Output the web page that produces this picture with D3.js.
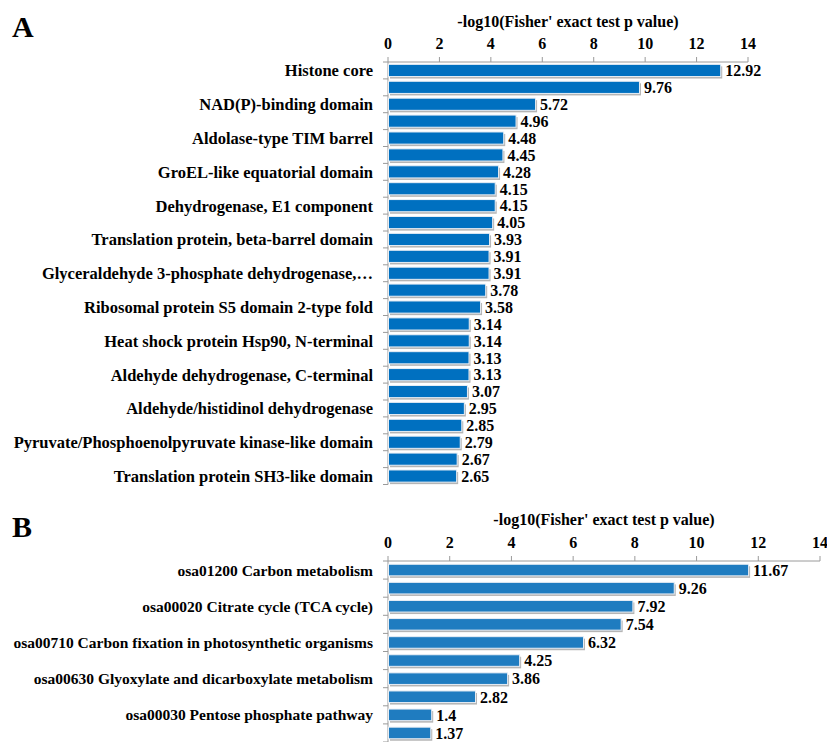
<!DOCTYPE html>
<html><head><meta charset="utf-8">
<script src="https://cdn.jsdelivr.net/npm/d3@7"></script>
<style>body{margin:0;background:#fff}text{font-family:"Liberation Serif","Times New Roman",serif;font-weight:bold;fill:#000}</style>
</head><body>
<script>
// Panel A data (labels shown on every other row, as in the source)
const catsA = ["Histone core","","NAD(P)-binding domain","","Aldolase-type TIM barrel","","GroEL-like equatorial domain","","Dehydrogenase, E1 component","","Translation protein, beta-barrel domain","","Glyceraldehyde 3-phosphate dehydrogenase,…","","Ribosomal protein S5 domain 2-type fold","","Heat shock protein Hsp90, N-terminal","","Aldehyde dehydrogenase, C-terminal","","Aldehyde/histidinol dehydrogenase","","Pyruvate/Phosphoenolpyruvate kinase-like domain","","Translation protein SH3-like domain"];
const valsA = [12.92,9.76,5.72,4.96,4.48,4.45,4.28,4.15,4.15,4.05,3.93,3.91,3.91,3.78,3.58,3.14,3.14,3.13,3.13,3.07,2.95,2.85,2.79,2.67,2.65];
// Panel B data
const catsB = ["osa01200 Carbon metabolism","","osa00020 Citrate cycle (TCA cycle)","","osa00710 Carbon fixation in photosynthetic organisms","","osa00630 Glyoxylate and dicarboxylate metabolism","","osa00030 Pentose phosphate pathway",""];
const valsB = [11.67,9.26,7.92,7.54,6.32,4.25,3.86,2.82,1.4,1.37];
const ticks = [0,2,4,6,8,10,12,14];
const axisTitle = "-log10(Fisher' exact test p value)";

const svg = d3.select("body").append("svg").attr("width",827).attr("height",742);

function panel(cfg){
  const {cats, vals, letter, x0, x1, y0, y1, color, pad, letterY, titleY, tickY, labFont} = cfg;
  const g = svg.append("g");
  const x = d3.scaleLinear().domain([0,14]).range([x0,x1]);
  const idx = d3.range(vals.length);
  const y = d3.scaleBand().domain(idx).range([y0,y1]).paddingInner(pad).paddingOuter(pad/2);
  g.append("text").attr("x",12).attr("y",letterY).style("font-size","30px").text(letter);
  g.append("text").attr("x",(x0+x1)/2).attr("y",titleY).attr("text-anchor","middle").style("font-size","16px").text(axisTitle);
  // top axis
  g.append("line").attr("x1",x0).attr("x2",x1).attr("y1",y0).attr("y2",y0).attr("stroke","#9a9a9a");
  g.selectAll(".tk").data(ticks).enter().append("line").attr("x1",d=>x(d)).attr("x2",d=>x(d)).attr("y1",y0).attr("y2",y0-5).attr("stroke","#9a9a9a");
  g.selectAll(".tl").data(ticks).enter().append("text").attr("x",d=>x(d)).attr("y",tickY).attr("text-anchor","middle").style("font-size","16px").text(d=>d);
  // left axis
  g.append("line").attr("x1",x0).attr("x2",x0).attr("y1",y0).attr("y2",y1).attr("stroke","#9a9a9a");
  g.selectAll(".lt").data(d3.range(vals.length+1)).enter().append("line")
    .attr("x1",x0-5).attr("x2",x0).attr("y1",i=>y0+i*(y1-y0)/vals.length).attr("y2",i=>y0+i*(y1-y0)/vals.length).attr("stroke","#9a9a9a");
  // shadows
  g.selectAll(".sh").data(idx).enter().append("rect")
    .attr("x",x0+2).attr("y",i=>y(i)+2).attr("width",i=>x(vals[i])-x0).attr("height",y.bandwidth())
    .attr("fill","#b5b5b5");
  g.selectAll(".bar").data(idx).enter().append("rect")
    .attr("x",x0+0.5).attr("y",i=>y(i)).attr("width",i=>x(vals[i])-x0).attr("height",y.bandwidth())
    .attr("fill",color).attr("stroke","#e8eef5").attr("stroke-width",1);
  g.selectAll(".vl").data(idx).enter().append("text")
    .attr("x",i=>x(vals[i])+5).attr("y",i=>y(i)+y.bandwidth()/2).attr("dy","0.36em")
    .style("font-size","16px").text(i=>vals[i]);
  g.selectAll(".cl").data(idx.filter(i=>cats[i])).enter().append("text")
    .attr("x",x0-15).attr("y",i=>y(i)+y.bandwidth()/2).attr("dy","0.36em").attr("text-anchor","end")
    .style("font-size",labFont).text(i=>cats[i]);
}
panel({cats:catsA, vals:valsA, letter:"A", x0:388, x1:748, y0:62, y1:484.5, color:"#0070C0", pad:0.28, letterY:37, titleY:27, tickY:49, labFont:"16.5px"});
panel({cats:catsB, vals:valsB, letter:"B", x0:388, x1:820, y0:561, y1:742, color:"#1F7CC0", pad:0.36, letterY:537, titleY:525, tickY:548, labFont:"15.5px"});
</script>
</body></html>
